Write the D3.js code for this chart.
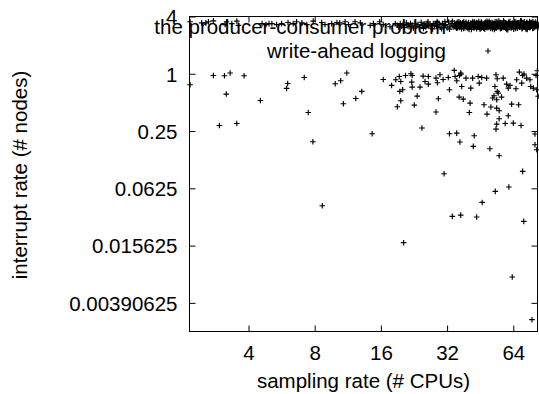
<!DOCTYPE html>
<html><head><meta charset="utf-8">
<script src="https://cdn.jsdelivr.net/npm/d3@7"></script>
<style>body{margin:0;background:#fff}svg{display:block}text{font-family:"Liberation Sans",Arial,Helvetica,sans-serif;fill:#000}</style>
</head><body><svg id="c" width="539" height="394"></svg>
<script>
const xTicks=[4,8,16,32,64];
const yTicks=[4,1,0.25,0.0625,0.015625,0.00390625];
const yTickLabels=["4","1","0.25","0.0625","0.015625","0.00390625"];
const seriesNames=["the producer-consumer problem","write-ahead logging"];
const xTitle="sampling rate (# CPUs)";
const yTitle="interrupt rate (# nodes)";

const producerConsumer=[
[2.17,3.52],[2.45,3.43],[2.56,3.43],[2.63,3.52],[2.77,3.60],[3.13,3.29],[3.18,3.52],[3.36,3.37],[3.54,3.58],[3.60,3.23],
[4.61,3.37],[4.80,3.29],[4.96,3.37],[5.11,3.37],[5.37,3.29],[5.66,3.37],[6.05,3.46],[6.39,3.37],[6.62,3.52],[7.0,3.43],[7.37,3.29],[7.88,3.58],[8.61,3.46],[8.91,3.29],[9.56,3.37],[10.1,3.46],[10.4,3.43],[11.0,3.52],[11.4,3.29],[12.2,3.52],[12.9,3.43],[14.3,3.23],[14.8,3.37],[15.8,3.52],[16.4,3.29],[17.6,3.12],[18.6,3.37],
[19.0,3.24],[19.3,3.10],[19.6,3.38],[19.9,3.18],[20.2,3.31],[20.5,3.06],[20.9,3.44],[21.2,3.20],[21.5,3.13],[21.8,3.37],[22.2,3.26],[22.5,3.03],[22.9,3.40],[23.3,3.16],[23.6,3.29],[24.0,3.08],[24.4,3.48],[24.8,3.21],[25.2,3.34],[25.6,3.11],[26.0,3.42],[26.4,3.19],[26.8,3.27],[27.2,3.01],[27.7,3.37],[28.1,3.23],[28.6,3.14],[29.0,3.46],[29.5,3.31],[30.0,3.07],[30.5,3.39],[31.0,3.20],[31.5,3.28],[32.0,3.04],[32.5,3.50],[33.0,3.17],[33.6,3.34],[34.1,3.10],
[25.0,2.99],[26.2,3.52],[27.5,2.96],[28.8,3.55],[30.2,2.97],[31.3,3.53],[32.8,2.95],[33.8,3.57],
[34.6,3.40],[34.8,3.10],[35.1,3.27],[35.3,3.01],[35.6,3.48],[35.9,3.18],[36.1,3.34],[36.4,3.06],[36.7,3.44],[36.9,3.21],
[37.2,2.96],[37.5,3.37],[37.8,3.14],[38.1,3.52],[38.3,3.25],[38.6,3.03],[38.9,3.38],[39.2,3.16],[39.5,3.31],[39.8,2.99],
[40.1,3.46],[40.4,3.20],[40.7,3.08],[41.0,3.35],[41.3,2.93],[41.7,3.42],[42.0,3.23],[42.3,3.05],[42.6,3.50],[43.0,3.12],
[43.3,3.29],[43.6,2.97],[44.0,3.40],[44.3,3.18],[44.6,3.55],[45.0,3.06],[45.3,3.33],[45.7,3.01],[46.0,3.44],[46.4,3.21],
[46.7,3.10],[47.1,3.37],[47.5,2.95],[47.8,3.48],[48.2,3.25],[48.6,3.05],[48.9,3.40],[49.3,3.14],[49.7,3.57],[50.1,3.31],
[50.5,2.99],[50.9,3.20],[51.3,3.46],[51.7,3.08],[52.1,3.35],[52.5,2.93],[52.9,3.52],[53.3,3.23],[53.7,3.03],[54.1,3.38],
[54.6,3.16],[55.0,3.59],[55.4,3.29],[55.9,2.97],[56.3,3.42],[56.7,3.10],[57.2,3.33],[57.6,3.06],[58.1,3.50],[58.5,3.20],
[59.0,3.01],[59.4,3.37],[59.9,3.25],[60.4,2.91],[60.8,3.46],[61.3,3.14],[61.8,3.53],[62.3,3.27],[62.8,3.05],[63.3,3.40],
[63.8,3.18],[64.3,2.95],[64.8,3.35],[65.3,3.10],[65.8,3.48],[66.3,3.23],[66.9,3.01],[67.4,3.44],[67.9,3.31],[68.5,3.08],
[69.0,3.61],[69.6,3.20],[70.1,2.97],[70.7,3.38],[71.2,3.14],[71.8,3.52],[72.4,3.27],[72.9,3.03],[73.5,3.42],[74.1,2.93],
[74.7,3.35],[75.3,3.16],[75.9,3.55],[76.5,3.06],[77.1,3.29],[77.7,3.46],[78.3,2.99],[79.0,3.23],[79.6,3.40],[80.2,3.10],
[80.9,3.50],[81.5,3.20],[82.2,3.33],[82.8,3.05],
[34.7,3.20],[35.2,3.37],[35.7,3.03],[36.2,3.52],[36.6,3.12],[37.1,3.29],[37.6,3.44],[38.0,2.99],[38.5,3.23],[39.0,3.48],
[39.4,3.08],[39.9,3.33],[40.3,2.93],[40.9,3.40],[41.4,3.16],[41.9,3.55],[42.4,3.05],[42.9,3.27],[43.5,3.46],[44.1,3.10],
[44.7,3.35],[45.2,2.95],[45.8,3.50],[46.3,3.21],[46.9,3.01],[47.4,3.38],[48.0,3.14],[48.6,3.57],[49.1,3.25],[49.6,3.06],
[50.3,3.42],[50.8,3.18],[51.5,2.97],[52.0,3.37],[52.7,3.29],[53.2,3.03],[53.9,3.53],[54.4,3.12],[55.2,3.33],[55.7,3.46],
[56.5,3.01],[57.0,3.23],[57.8,3.61],[58.3,3.08],[59.2,3.40],[59.7,2.93],[60.6,3.27],[61.1,3.48],[62.0,3.16],[62.6,3.05],
[63.5,3.37],[64.1,3.21],[65.0,3.55],[65.6,2.99],[66.6,3.31],[67.1,3.44],[68.2,3.10],[68.8,3.25],[69.8,3.59],[70.4,3.03],
[71.5,3.38],[72.1,3.18],[73.2,2.95],[73.8,3.48],[74.9,3.29],[75.6,3.06],[76.7,3.42],[77.4,3.21],[78.6,3.53],[79.3,3.01],
[80.5,3.35],[81.2,3.14],[82.4,3.46],[83.0,3.25]
];

const writeAheadLogging=[
[2.17,0.766],[2.77,0.96],[3.11,0.953],[3.30,1.02],[3.82,0.953],[3.17,0.612],[2.95,0.286],[3.54,0.30],[4.53,0.524],[6.03,0.791],[5.96,0.701],[7.17,0.914],[7.48,0.392],[7.85,0.193],[9.92,0.785],[10.5,0.844],[11.2,1.02],[10.8,0.484],[12.3,0.55],[13.1,0.652],[8.66,0.041],
[16.4,0.871],[17.9,0.754],[18.7,0.865],[19.4,0.937],[19.7,0.83],[20.1,0.679],[19.5,0.652],[19.7,0.52],[19.0,0.45],[20.7,0.96],[21.9,1.0],[22.2,0.96],[22.1,0.818],[22.2,0.725],[24.1,0.725],[24.9,0.946],[25.4,0.83],[26.3,0.937],[26.3,0.779],[23.4,0.583],[22.7,0.469],[24.6,0.269],[14.6,0.234],
[28.5,0.396],[29.2,0.546],[28.9,0.804],[28.5,0.901],[29.7,0.976],[30.7,0.871],[32.4,0.914],[32.8,0.679],[34.5,1.084],[34.8,0.937],[35.4,0.844],[36.4,0.96],[36.9,1.02],[37.0,0.993],[37.3,0.735],[39.0,0.901],[41.0,0.707],[41.8,0.901],[44.3,0.937],[44.8,0.798],[46.0,0.914],[48.4,0.901],
[36.3,0.569],[37.9,0.542],[40.7,0.492],[40.4,0.392],[47.1,0.4725],[48.6,0.377],[50.6,0.447],[53.8,0.436],[55.2,0.409],[51.6,0.556],[52.3,0.587],[56.6,0.569],[53.4,0.976],[54.1,0.886],[57.6,0.901],[52.8,0.735],[54.1,0.652],[54.6,0.627],[53.8,0.533],
[59.7,0.779],[60.7,0.707],[61.8,0.754],[65.8,0.696],[66.3,0.865],[68.2,1.042],[70.6,0.96],[71.6,0.993],[69.9,0.798],[73.6,0.901],[76.2,0.865],[76.8,0.735],[78.9,0.707],[81.2,0.96],[82.3,1.076],[81.8,0.679],[83.0,0.58],
[62.9,0.48],[67.7,0.4725],[60.7,0.362],[55.2,0.337],[58.8,0.30],[64.0,0.303],[69.4,0.286],[53.8,0.296],[53.4,0.262],
[32.8,0.234],[35.4,0.238],[42.5,0.223],[36.6,0.1916],[42.1,0.1725],[50.1,0.163],[55.2,0.1375],[80.3,0.2325],[80.3,0.1795],[81.8,0.159],
[31.0,0.089],[70.6,0.0941],[53.0,0.058],[61.1,0.0645],[46.2,0.0444],[33.8,0.0317],[36.9,0.0327],[43.6,0.0312],[71.4,0.0281],[20.3,0.01676],[63.3,0.00731],[77.8,0.0026]
];

const m={l:189.5,r:537.5,t:16.5,b:331.5};
const FS="20.5px";
const svg=d3.select("#c");
const x=d3.scaleLog().base(2).domain([2.157,82.46]).range([m.l,m.r]);
const y=d3.scaleLog().base(2).domain([0.001953125,4]).range([m.b,m.t]);

function styleAxis(g,showText){
  g.select(".domain").remove();
  g.selectAll(".tick line").attr("stroke","#000").attr("stroke-width",1);
  g.selectAll("text").attr("font-size",FS).attr("font-family",'"Liberation Sans",Arial,sans-serif').attr("fill","#000");
  if(!showText) g.selectAll("text").remove();
}
const gB=svg.append("g").attr("transform",`translate(0,${m.b})`)
  .call(d3.axisBottom(x).tickValues(xTicks).tickFormat(d3.format("d")).tickSize(-6).tickPadding(0));
styleAxis(gB,true);
gB.selectAll("text").attr("y",28.5).attr("dy",null);
const gT=svg.append("g").attr("transform",`translate(0,${m.t})`)
  .call(d3.axisTop(x).tickValues(xTicks).tickSize(-6));
styleAxis(gT,false);
const gL=svg.append("g").attr("transform",`translate(${m.l},0)`)
  .call(d3.axisLeft(y).tickValues(yTicks).tickFormat((d,i)=>yTickLabels[i]).tickSize(-6).tickPadding(12));
styleAxis(gL,true);
gL.selectAll("text").attr("dy","0.36em");
const gR=svg.append("g").attr("transform",`translate(${m.r},0)`)
  .call(d3.axisRight(y).tickValues(yTicks).tickSize(-6));
styleAxis(gR,false);

svg.append("rect").attr("x",m.l).attr("y",m.t).attr("width",m.r-m.l).attr("height",m.b-m.t)
  .attr("fill","none").attr("stroke","#000").attr("stroke-width",1);

const plus="M-2.8,0H2.8M0,-2.8V2.8";
function drawSeries(data){
  svg.append("g").selectAll("path").data(data).join("path")
    .attr("d",plus).attr("transform",d=>`translate(${x(d[0])},${y(d[1])})`)
    .attr("stroke","#000").attr("stroke-width",1.15).attr("fill","none");
}
drawSeries(producerConsumer);
drawSeries(writeAheadLogging);

// legend
const leg=svg.append("g");
seriesNames.forEach((s,i)=>{
  const cy=27+i*24;
  leg.append("text").attr("x",446).attr("y",cy+6.5).attr("text-anchor","end").attr("font-size",FS).text(s);
  leg.append("path").attr("d",plus).attr("transform",`translate(488,${cy})`).attr("stroke","#000").attr("stroke-width",1.15);
});

svg.append("text").attr("x",(m.l+m.r)/2).attr("y",388).attr("text-anchor","middle").attr("font-size",FS).text(xTitle);
svg.append("text").attr("transform",`translate(26.5,175)rotate(-90)`).attr("text-anchor","middle").attr("font-size",FS).text(yTitle);
</script></body></html>
